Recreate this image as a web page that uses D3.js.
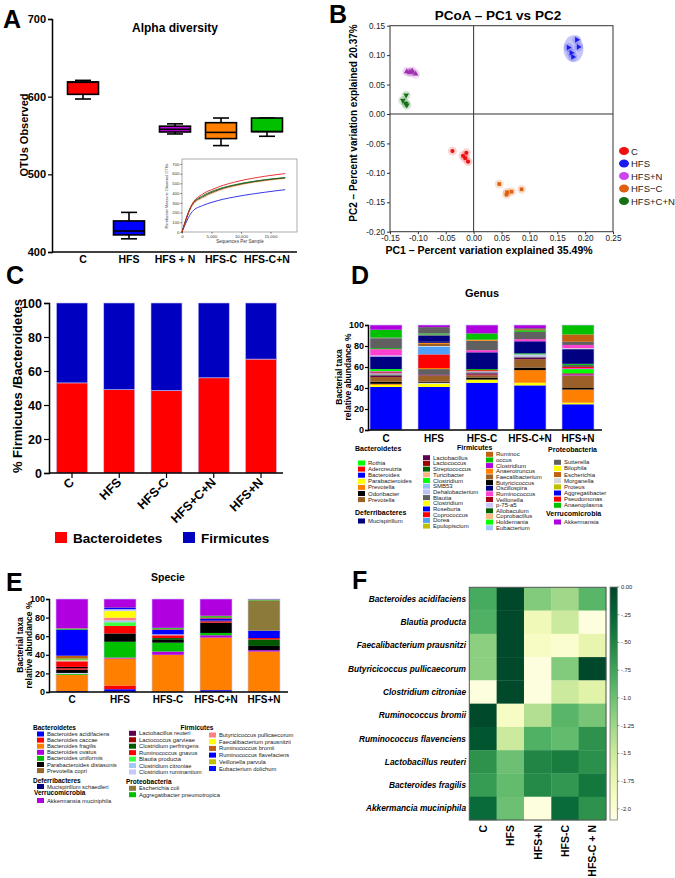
<!DOCTYPE html>
<html>
<head>
<meta charset="utf-8">
<script src="https://cdn.jsdelivr.net/npm/d3@7"></script>
<style>
  body { margin: 0; background: #fff; }
  svg text { font-family: Arial, 'Liberation Sans', sans-serif; }
</style>
</head>
<body>
<div class="main"></div>
<script>
// ---------- data ----------
// A: alpha diversity boxes
const boxGroups = ['C', 'HFS', 'HFS + N', 'HFS-C', 'HFS-C+N'];
const boxMin = [597, 417, 552, 537, 549];
const boxQ1 = [603, 422, 554.5, 546, 555];
const boxMedian = [618.5, 427, 558, 554, 555];
const boxQ3 = [619, 440, 562, 566.5, 572.5];
const boxMax = [621, 451, 565, 572.5, 572.5];

// A inset: rarefaction curves
const rareDepth = [0, 1750, 3500, 5250, 7000, 8750, 10500, 12250, 14000, 15750, 17500];
const rareC = [0, 290, 390, 440, 480, 510, 535, 555, 572, 587, 600];
const rareHFS = [0, 210, 272, 308, 337, 358, 377, 393, 408, 422, 435];
const rareHFSN = [0, 282, 362, 412, 450, 478, 500, 518, 533, 546, 556];
const rareHFSC = [0, 272, 352, 402, 442, 470, 493, 512, 527, 540, 551];
const rareHFSCN = [0, 287, 372, 422, 457, 483, 505, 522, 537, 549, 559];

// B: PCoA
const pcoaGroups = ['C', 'HFS', 'HFS+N', 'HFS\u2212C', 'HFS+C+N'];
const pcoaC = [[-0.038, -0.063], [-0.019, -0.071], [-0.013, -0.066], [-0.015, -0.075], [-0.010, -0.081]];
const pcoaHFS = [[0.185, 0.126], [0.170, 0.113], [0.188, 0.114], [0.175, 0.104], [0.178, 0.097]];
const pcoaHFSN = [[-0.120, 0.072], [-0.115, 0.071], [-0.110, 0.073], [-0.104, 0.068], [-0.112, 0.071]];
const pcoaHFSC = [[0.046, -0.119], [0.059, -0.137], [0.068, -0.132], [0.086, -0.128], [0.060, -0.133]];
const pcoaHFSCN = [[-0.127, 0.023], [-0.121, 0.032], [-0.120, 0.015], [-0.122, 0.018]];
const pcoaXTicks = [-0.15, -0.10, -0.05, 0.00, 0.05, 0.10, 0.15, 0.20, 0.25];
const pcoaYTicks = [-0.20, -0.15, -0.10, -0.05, 0.00, 0.05, 0.10, 0.15];

// C: Firmicutes / Bacteroidetes
const fbGroups = ['C', 'HFS', 'HFS-C', 'HFS+C+N', 'HFS+N'];
const bacteroidetesPct = [53, 49, 48.5, 56, 67];
const firmicutesPct = [47, 51, 51.5, 44, 33];

// D: genus stacks (bottom to top)
const genusGroups = ['C', 'HFS', 'HFS-C', 'HFS-C+N', 'HFS+N'];
const genusBacteroidetes = ['Rothia', 'Adercreutzia', 'Bacteroides', 'Parabacteroides', 'Prevotella', 'Odoribacter', 'Prevotella#2'];
const genusDeferribacteres = ['Mucispirillum'];
const genusFirmicutesA = ['Lactobacillus', 'Lactococcus', 'Streptococcus', 'Turicibacter', 'Clostridium', 'SMB53', 'Dehalobacterium', 'Blautia', 'Clostridium#2', 'Roseburia', 'Coprococcus', 'Dorea', 'Epulopiscium'];
const genusFirmicutesB = ['Ruminoc', 'occus', 'Clostridium#3', 'Anaerotruncus', 'Faecalibacterium', 'Butyricicoccus', 'Oscillospira', 'Ruminococcus', 'Veillonella', 'p-75-a5', 'Allobaculum', 'Coprobacillus', 'Holdemania', 'Eubacterium'];
const genusProteobacteria = ['Sutterella', 'Bilophila', 'Escherichia', 'Morganella', 'Proteus', 'Aggregatibacter', 'Pseudomonas', 'Anaeroplasma'];
const genusVerrucomicrobia = ['Akkermansia'];

const genusC = [['Bacteroides', 41], ['Parabacteroides', 2], ['Prevotella', 1], ['Odoribacter', 2], ['Prevotella#2', 4.5], ['Lactobacillus', 1], ['Blautia', 1.5], ['Dehalobacterium', 1], ['Lactococcus', 1], ['Ruminococcus', 1], ['Clostridium', 2], ['Oscillospira', 12], ['Dehalobacterium', 1], ['Ruminococcus', 6], ['occus', 1], ['Sutterella', 9], ['Blautia', 1], ['Anaeroplasma', 7.5], ['Akkermansia', 4.5]];
const genusHFS = [['Bacteroides', 41], ['Parabacteroides', 3], ['Morganella', 1], ['Odoribacter', 1], ['Prevotella#2', 6], ['Lactobacillus', 1], ['Blautia', 5], ['Prevotella', 1], ['Coprococcus', 13], ['Dorea', 7.5], ['Morganella', 0.5], ['Faecalibacterium', 2], ['Anaerotruncus', 1], ['Oscillospira', 1], ['Mucispirillum', 6], ['Blautia', 1], ['occus', 1], ['Sutterella', 6], ['Akkermansia', 2]];
const genusHFSC = [['Bacteroides', 45], ['Parabacteroides', 3], ['Odoribacter', 2], ['Prevotella#2', 2], ['Veillonella', 1], ['Lactobacillus', 1], ['Blautia', 1], ['Dehalobacterium', 1], ['Coprococcus', 1], ['occus', 1], ['Oscillospira', 16], ['Ruminococcus', 2], ['Sutterella', 9], ['Anaerotruncus', 1], ['Anaeroplasma', 6], ['Akkermansia', 8]];
const genusHFSCN = [['Bacteroides', 42.5], ['Parabacteroides', 2.5], ['Anaerotruncus', 12], ['Odoribacter', 2.5], ['Prevotella#2', 8], ['Lactobacillus', 1.5], ['Blautia', 1], ['p-75-a5', 2], ['occus', 1], ['Oscillospira', 11.5], ['Ruminococcus', 2], ['Sutterella', 7], ['Anaeroplasma', 1.5], ['Ruminoc', 1], ['Blautia', 1], ['Akkermansia', 3]];
const genusHFSN = [['Bacteroides', 24.5], ['Parabacteroides', 1.5], ['Anaerotruncus', 12.5], ['Odoribacter', 1.5], ['Prevotella#2', 12], ['Clostridium#3', 1], ['Veillonella', 1], ['Holdemania', 4], ['Ruminococcus', 1], ['Pseudomonas', 1], ['Blautia', 2], ['occus', 1], ['Oscillospira', 14], ['Morganella', 1], ['Ruminococcus', 3], ['Sutterella', 3], ['Escherichia', 7], ['Anaeroplasma', 9]];
const genusStacks = [genusC, genusHFS, genusHFSC, genusHFSCN, genusHFSN];

// E: species stacks
const spGroups = ['C', 'HFS', 'HFS-C', 'HFS-C+N', 'HFS+N'];
const spBacteroidetes = ['Bacteroides acidifaciens', 'Bacteroides caccae', 'Bacteroides fragilis', 'Bacteroides ovatus', 'Bacteroides uniformis', 'Parabacteroides distasonis', 'Prevotella copri'];
const spDeferribacteres = ['Mucispirillum schaedleri'];
const spVerrucomicrobia = ['Akkermansia muciniphila'];
const spFirmicutesA = ['Lactobacillus reuteri', 'Lactococcus garvieae', 'Clostridium perfringens', 'Ruminococcus gnavus', 'Blautia producta', 'Clostridium citroniae', 'Clostridium ruminantium'];
const spProteobacteria = ['Escherichia coli', 'Aggregatibacter pneumotropica'];
const spFirmicutesB = ['Butyricicoccus pullicaecorum', 'Faecalibacterium prausnitzii', 'Ruminococcus bromii', 'Ruminococcus flavefaciens', 'Veillonella parvula', 'Eubacterium dolichum'];

const spC = [['Ruminococcus flavefaciens', 1], ['Bacteroides fragilis', 17.5], ['Bacteroides uniformis', 1], ['Clostridium ruminantium', 1], ['Parabacteroides distasonis', 3.5], ['Ruminococcus gnavus', 1.5], ['Parabacteroides distasonis', 1.5], ['Bacteroides caccae', 6], ['Clostridium ruminantium', 1], ['Veillonella parvula', 1], ['Bacteroides uniformis', 1], ['Ruminococcus bromii', 3], ['Bacteroides acidifaciens', 28], ['Bacteroides uniformis', 1], ['Prevotella copri', 0.5], ['Akkermansia muciniphila', 31.5]];
const spHFS = [['Bacteroides acidifaciens', 3], ['Bacteroides caccae', 4], ['Bacteroides fragilis', 29], ['Bacteroides ovatus', 1], ['Bacteroides uniformis', 17], ['Parabacteroides distasonis', 9], ['Ruminococcus gnavus', 8], ['Blautia producta', 4], ['Clostridium citroniae', 2], ['Butyricicoccus pullicaecorum', 3], ['Faecalibacterium prausnitzii', 7], ['Clostridium ruminantium', 2], ['Ruminococcus flavefaciens', 1.5], ['Mucispirillum schaedleri', 0.5], ['Akkermansia muciniphila', 9]];
const spHFSC = [['Bacteroides fragilis', 40], ['Bacteroides ovatus', 3.5], ['Bacteroides uniformis', 9.5], ['Parabacteroides distasonis', 3], ['Clostridium perfringens', 2], ['Bacteroides caccae', 3], ['Clostridium ruminantium', 1], ['Bacteroides acidifaciens', 5], ['Prevotella copri', 1], ['Bacteroides uniformis', 1], ['Akkermansia muciniphila', 31]];
const spHFSCN = [['Bacteroides acidifaciens', 2], ['Bacteroides fragilis', 56.5], ['Bacteroides ovatus', 2.5], ['Bacteroides uniformis', 2.5], ['Parabacteroides distasonis', 11], ['Bacteroides caccae', 1.5], ['Mucispirillum schaedleri', 1], ['Bacteroides acidifaciens', 2], ['Ruminococcus gnavus', 1], ['Bacteroides uniformis', 1.5], ['Prevotella copri', 0.5], ['Akkermansia muciniphila', 18]];
const spHFSN = [['Bacteroides fragilis', 43.5], ['Bacteroides ovatus', 1.5], ['Parabacteroides distasonis', 4.5], ['Clostridium perfringens', 7], ['Bacteroides caccae', 1.5], ['Ruminococcus flavefaciens', 8], ['Escherichia coli', 32.5], ['Aggregatibacter pneumotropica', 1], ['Akkermansia muciniphila', 0.5]];
const spStacks = [spC, spHFS, spHFSC, spHFSCN, spHFSN];

// F: heatmap
const heatCols = ['C', 'HFS', 'HFS+N', 'HFS-C', 'HFS-C + N'];
const heatRows = ['Bacteroides acidifaciens', 'Blautia producta', 'Faecalibacterium prausnitzi', 'Butyricicoccus pullicaecorum', 'Clostridium citroniae', 'Ruminococcus bromii', 'Ruminococcus  flavenciens', 'Lactobacillus reuteri', 'Bacteroides  fragilis', 'Akkermancia muciniphila'];
const heatValues = [
  [-0.80, -0.02, -1.10, -1.25, -0.90],
  [-0.85, -0.03, -1.80, -1.50, -2.05],
  [-1.15, -0.03, -1.90, -1.95, -1.70],
  [-1.15, -0.03, -2.05, -1.10, -0.02],
  [-2.05, -0.03, -2.05, -1.50, -1.65],
  [-0.03, -1.90, -1.35, -0.90, -1.05],
  [-0.12, -1.50, -0.85, -0.95, -0.62],
  [-0.62, -1.00, -0.52, -0.45, -0.60],
  [-0.68, -0.95, -0.55, -0.65, -0.40],
  [-0.30, -1.00, -2.05, -0.30, -0.62]
];
const heatTicks = [0, -0.25, -0.5, -0.75, -1.0, -1.25, -1.5, -1.75, -2.0];
const heatTickLabels = ['0.00', '-.25', '-.50', '-.75', '-1.0', '-1.25', '-1.5', '-1.75', '-2.0'];

// ---------- styles ----------
const boxColors = ['#ff0000', '#0000ff', '#c000e0', '#ff8000', '#00c000'];
const rareColors = ['#e82020', '#2020e0', '#303030', '#f09040', '#107010'];
const pcoaColors = ['#ee1111', '#1a1aee', '#a030b0', '#e06010', '#157015'];
const legendBColors = ['#ee1111', '#1a1aee', '#cc44ee', '#e06010', '#157015'];

const genusColor = {
  'Rothia': '#00ff00', 'Adercreutzia': '#ff0000', 'Bacteroides': '#0000ff', 'Parabacteroides': '#ffff00',
  'Prevotella': '#ff8000', 'Odoribacter': '#000000', 'Prevotella#2': '#9a6028', 'Mucispirillum': '#000080',
  'Lactobacillus': '#600050', 'Lactococcus': '#a00000', 'Streptococcus': '#006000', 'Turicibacter': '#f8b880',
  'Clostridium': '#00ff00', 'SMB53': '#90c0f8', 'Dehalobacterium': '#c0c0f8', 'Blautia': '#606060',
  'Clostridium#2': '#ffff00', 'Roseburia': '#0000ff', 'Coprococcus': '#ff0000', 'Dorea': '#50a0f8',
  'Epulopiscium': '#c0c000', 'Ruminoc': '#c06010', 'occus': '#00c000', 'Clostridium#3': '#b000e0',
  'Anaerotruncus': '#ff8000', 'Faecalibacterium': '#9a6028', 'Butyricicoccus': '#000000', 'Oscillospira': '#000080',
  'Ruminococcus': '#ff40d0', 'Veillonella': '#a00010', 'p-75-a5': '#c8c8ff', 'Allobaculum': '#006000',
  'Coprobacillus': '#f8b880', 'Holdemania': '#00ff00', 'Eubacterium': '#a0c8f8', 'Sutterella': '#606060',
  'Bilophila': '#ffff00', 'Escherichia': '#c06010', 'Morganella': '#d8d8d8', 'Proteus': '#c0c000',
  'Aggregatibacter': '#0000ff', 'Pseudomonas': '#ff0000', 'Anaeroplasma': '#00c000', 'Akkermansia': '#b000e0'
};
const spColor = {
  'Bacteroides acidifaciens': '#0000ff', 'Bacteroides caccae': '#ff0000', 'Bacteroides fragilis': '#ff8000',
  'Bacteroides ovatus': '#b000e0', 'Bacteroides uniformis': '#00c000', 'Parabacteroides distasonis': '#000000',
  'Prevotella copri': '#9a6828', 'Mucispirillum schaedleri': '#000080', 'Akkermansia muciniphila': '#b000e0',
  'Lactobacillus reuteri': '#600050', 'Lactococcus garvieae': '#a00000', 'Clostridium perfringens': '#005800',
  'Ruminococcus gnavus': '#ff0000', 'Blautia producta': '#40ff40', 'Clostridium citroniae': '#a0c8f8',
  'Clostridium ruminantium': '#c8c8f8', 'Escherichia coli': '#8b7a3a', 'Aggregatibacter pneumotropica': '#00c000',
  'Butyricicoccus pullicaecorum': '#ff8080', 'Faecalibacterium prausnitzii': '#ffff00', 'Ruminococcus bromii': '#c06010',
  'Ruminococcus flavefaciens': '#0000ff', 'Veillonella parvula': '#c0c000', 'Eubacterium dolichum': '#0010ff'
};

const w = 675;
const h = 878;
const svg = d3.select('.main').append('svg').attr('width', w).attr('height', h);

function label(g, txt, x, y, size, opts = {}) {
  const t = g.append('text').attr('x', x).attr('y', y).attr('font-size', size)
    .attr('font-weight', opts.weight || 'bold').attr('text-anchor', opts.anchor || 'start')
    .attr('fill', opts.fill || '#000').text(txt);
  if (opts.rotate !== undefined) t.attr('transform', `rotate(${opts.rotate},${x},${y})`);
  if (opts.italic) t.attr('font-style', 'italic');
  return t;
}

function styleAxis(ax, size, weight) {
  ax.selectAll('.domain').attr('stroke', '#000').attr('stroke-width', 1.5);
  ax.selectAll('.tick line').attr('stroke', '#000').attr('stroke-width', 1.2);
  ax.selectAll('.tick text').attr('font-size', size).attr('font-weight', weight)
    .attr('font-family', "Arial, 'Liberation Sans', sans-serif").attr('fill', '#000');
}

// panel letters
[['A', 3, 28], ['B', 329, 23], ['C', 6, 284], ['D', 351, 284], ['E', 6, 591], ['F', 352, 589]]
  .forEach(([t, x, y]) => label(svg, t, x, y, 25));

// ---------- A ----------
const gA = svg.append('g');
const yA = d3.scaleLinear().domain([400, 700]).range([252, 19]);
const xA = d3.scalePoint().domain(boxGroups).range([83, 267]);
const axA = gA.append('g').attr('transform', 'translate(52,0)')
  .call(d3.axisLeft(yA).tickValues([400, 500, 600, 700]).tickSize(4).tickPadding(2));
styleAxis(axA, 11, 'bold');
gA.append('line').attr('x1', 52).attr('x2', 297).attr('y1', 252).attr('y2', 252)
  .attr('stroke', '#000').attr('stroke-width', 1.5);
label(gA, 'Alpha diversity', 175, 32, 12, { anchor: 'middle' });
label(gA, 'OTUs Observed', 28, 135, 11, { anchor: 'middle', rotate: -90 });
boxGroups.forEach((grp, i) => {
  label(gA, grp, xA(grp), 263, 10.5, { anchor: 'middle' });
  const cx = xA(grp);
  const bw = 31;
  const cap = 16;
  const gb = gA.append('g').attr('stroke', '#000').attr('stroke-width', 1.6);
  gb.append('line').attr('x1', cx).attr('x2', cx).attr('y1', yA(boxMax[i])).attr('y2', yA(boxMin[i]));
  gb.append('line').attr('x1', cx - cap / 2).attr('x2', cx + cap / 2).attr('y1', yA(boxMax[i])).attr('y2', yA(boxMax[i]));
  gb.append('line').attr('x1', cx - cap / 2).attr('x2', cx + cap / 2).attr('y1', yA(boxMin[i])).attr('y2', yA(boxMin[i]));
  gb.append('rect').attr('x', cx - bw / 2).attr('width', bw).attr('y', yA(boxQ3[i]))
    .attr('height', yA(boxQ1[i]) - yA(boxQ3[i])).attr('fill', boxColors[i]);
  gb.append('line').attr('x1', cx - bw / 2).attr('x2', cx + bw / 2).attr('y1', yA(boxMedian[i])).attr('y2', yA(boxMedian[i]));
});

// inset rarefaction
const xI = d3.scaleLinear().domain([0, 19500]).range([182, 297]);
const yI = d3.scaleLinear().domain([0, 750]).range([232, 159]);
gA.append('rect').attr('x', 182).attr('y', 159).attr('width', 115).attr('height', 73)
  .attr('fill', '#fff').attr('stroke', '#999').attr('stroke-width', 0.8);
const axIx = gA.append('g').attr('transform', 'translate(0,232)')
  .call(d3.axisBottom(xI).tickValues([0, 5000, 10000, 15000]).tickSize(1.5).tickPadding(1));
const axIy = gA.append('g').attr('transform', 'translate(182,0)')
  .call(d3.axisLeft(yI).tickValues([0, 100, 200, 300, 400, 500, 600, 700]).tickSize(1.5).tickPadding(1));
[axIx, axIy].forEach(a => {
  a.selectAll('.domain').remove();
  a.selectAll('.tick line').attr('stroke', '#666');
  a.selectAll('.tick text').attr('font-size', 4.3).attr('fill', '#333')
    .attr('font-family', "'DejaVu Sans', sans-serif");
});
label(gA, 'Sequences Per Sample', 240, 243, 4.5, { anchor: 'middle', weight: 'normal', fill: '#333' });
label(gA, 'Rarefaction Measure: Observed OTUs', 168, 196, 3.8, { anchor: 'middle', weight: 'normal', fill: '#333', rotate: -90 });
const rareLine = d3.line().x((d, i) => xI(rareDepth[i])).y(d => yI(d)).curve(d3.curveMonotoneX);
[rareHFS, rareHFSC, rareHFSN, rareHFSCN, rareC].forEach((s, i) => {
  const col = [rareColors[1], rareColors[3], rareColors[2], rareColors[4], rareColors[0]][i];
  gA.append('path').attr('d', rareLine(s)).attr('fill', 'none').attr('stroke', col).attr('stroke-width', 0.9);
});

// ---------- B ----------
const gB = svg.append('g');
const xB = d3.scaleLinear().domain([-0.15, 0.25]).range([390, 613]);
const yB = d3.scaleLinear().domain([-0.2, 0.15]).range([231.7, 25.7]);
label(gB, 'PCoA \u2013 PC1 vs PC2', 498, 20, 13.5, { anchor: 'middle' });
gB.append('rect').attr('x', 390).attr('y', 25.7).attr('width', 223).attr('height', 206)
  .attr('fill', 'none').attr('stroke', '#333').attr('stroke-width', 1);
gB.append('line').attr('x1', xB(0)).attr('x2', xB(0)).attr('y1', 25.7).attr('y2', 231.7).attr('stroke', '#333');
gB.append('line').attr('x1', 390).attr('x2', 613).attr('y1', yB(0)).attr('y2', yB(0)).attr('stroke', '#333');
const fmtB = d => d.toFixed(2);
const axBx = gB.append('g').attr('transform', 'translate(0,231.7)')
  .call(d3.axisBottom(xB).tickValues(pcoaXTicks).tickFormat(fmtB).tickSize(2.5).tickPadding(1));
const axBy = gB.append('g').attr('transform', 'translate(390,0)')
  .call(d3.axisLeft(yB).tickValues(pcoaYTicks).tickFormat(fmtB).tickSize(3).tickPadding(2));
[axBx, axBy].forEach(a => {
  a.selectAll('.domain').remove();
  a.selectAll('.tick line').attr('stroke', '#333');
  a.selectAll('.tick text').attr('font-size', 8.2).attr('fill', '#222');
});
label(gB, 'PC1 \u2013 Percent variation explained 35.49%', 489, 253.5, 10.5, { anchor: 'middle' });
label(gB, 'PC2 \u2013 Percent variation explained 20.37%', 357, 123, 10, { anchor: 'middle', rotate: -90 });
const pcoaSets = [pcoaC, pcoaHFS, pcoaHFSN, pcoaHFSC, pcoaHFSCN];
const pcoaSymbols = [d3.symbolCircle, d3.symbolTriangle, d3.symbolTriangle, d3.symbolSquare, d3.symbolTriangle];
const pcoaRot = [0, 90, 0, 0, 180];
pcoaSets.forEach((pts, i) => {
  const gx = pts.map(p => xB(p[0]));
  const gy = pts.map(p => yB(p[1]));
  if (i === 1) {
    gB.append('ellipse').attr('cx', d3.mean(gx)).attr('cy', d3.mean(gy))
      .attr('rx', (d3.max(gx) - d3.min(gx)) / 2 + 5).attr('ry', (d3.max(gy) - d3.min(gy)) / 2 + 5)
      .attr('fill', pcoaColors[i]).attr('opacity', 0.25);
  }
  pts.forEach(p => {
    gB.append('circle').attr('cx', xB(p[0])).attr('cy', yB(p[1])).attr('r', 4.5)
      .attr('fill', pcoaColors[i]).attr('opacity', 0.18);
  });
  gB.selectAll(null).data(pts).enter().append('path')
    .attr('d', d3.symbol().type(pcoaSymbols[i]).size(14))
    .attr('transform', d => `translate(${xB(d[0])},${yB(d[1])}) rotate(${pcoaRot[i]})`)
    .attr('fill', pcoaColors[i]);
});
pcoaGroups.forEach((grp, i) => {
  const yy = 151 + i * 12.5;
  gB.append('ellipse').attr('cx', 624).attr('cy', yy).attr('rx', 5).attr('ry', 4).attr('fill', legendBColors[i]);
  label(gB, grp, 631, yy + 3.5, 9.5, { weight: 'normal', fill: '#222' });
});

// ---------- C ----------
const gC = svg.append('g');
const yC = d3.scaleLinear().domain([0, 100]).range([473, 303]);
const xC = d3.scalePoint().domain(fbGroups).range([72, 261]);
fbGroups.forEach((grp, i) => {
  gC.append('rect').attr('x', xC(grp) - 15.5).attr('width', 31)
    .attr('y', yC(bacteroidetesPct[i])).attr('height', yC(0) - yC(bacteroidetesPct[i]))
    .attr('fill', '#ff0000').attr('stroke', '#c8c0f0').attr('stroke-width', 0.6);
  gC.append('rect').attr('x', xC(grp) - 15.5).attr('width', 31)
    .attr('y', yC(bacteroidetesPct[i] + firmicutesPct[i])).attr('height', yC(bacteroidetesPct[i]) - yC(bacteroidetesPct[i] + firmicutesPct[i]))
    .attr('fill', '#0000c0').attr('stroke', '#c8c0f0').attr('stroke-width', 0.6);
  gC.append('line').attr('x1', xC(grp)).attr('x2', xC(grp)).attr('y1', 473).attr('y2', 478)
    .attr('stroke', '#000').attr('stroke-width', 1.2);
  label(gC, grp, xC(grp) + 3, 483, 12.5, { anchor: 'end', rotate: -45 });
});
const axC = gC.append('g').attr('transform', 'translate(49,0)')
  .call(d3.axisLeft(yC).tickValues([0, 20, 40, 60, 80, 100]).tickSize(5).tickPadding(2));
styleAxis(axC, 12.5, 'bold');
gC.append('line').attr('x1', 49).attr('x2', 283).attr('y1', 473).attr('y2', 473)
  .attr('stroke', '#000').attr('stroke-width', 1.5);
label(gC, '% Firmicutes /Bacteroidetes', 22, 386, 13, { anchor: 'middle', rotate: -90 });
gC.append('rect').attr('x', 55).attr('y', 532).attr('width', 12).attr('height', 11).attr('fill', '#ff0000');
label(gC, 'Bacteroidetes', 73, 543, 13.5);
gC.append('rect').attr('x', 183).attr('y', 532).attr('width', 12).attr('height', 11).attr('fill', '#0000c0');
label(gC, 'Firmicutes', 201, 543, 13.5);

// ---------- stacked bar helper ----------
function drawStack(g, x, y, grp, segs, colors, bw) {
  const tops = d3.cumsum(segs, s => s[1]);
  const rows = segs.map((s, i) => ({ k: s[0], y0: tops[i] - s[1], y1: tops[i] }));
  g.selectAll(null).data(rows).enter().append('rect')
    .attr('x', x(grp) - bw / 2).attr('width', bw)
    .attr('y', d => y(d.y1)).attr('height', d => y(d.y0) - y(d.y1))
    .attr('fill', d => colors[d.k]);
  g.append('rect').attr('x', x(grp) - bw / 2).attr('width', bw)
    .attr('y', y(tops[tops.length - 1])).attr('height', y(0) - y(tops[tops.length - 1]))
    .attr('fill', 'none').attr('stroke', '#c8c8ff').attr('stroke-width', 0.6);
}

function legendCol(g, names, colors, x, y0, dy, size) {
  names.forEach((n, i) => {
    const yy = y0 + i * dy;
    g.append('rect').attr('x', x).attr('y', yy - 2.5).attr('width', 7).attr('height', 5).attr('fill', colors[n]);
    label(g, n.split('#')[0], x + 10, yy + 2, size, { weight: 'normal', fill: '#222' });
  });
}

// ---------- D ----------
const gD = svg.append('g');
const yD = d3.scaleLinear().domain([0, 100]).range([430, 325]);
const xD = d3.scalePoint().domain(genusGroups).range([386, 578]);
label(gD, 'Genus', 482, 297, 11, { anchor: 'middle' });
genusGroups.forEach((grp, i) => {
  drawStack(gD, xD, yD, grp, genusStacks[i], genusColor, 32);
  label(gD, grp, xD(grp), 442, 10, { anchor: 'middle' });
});
const axD = gD.append('g').attr('transform', 'translate(368,0)')
  .call(d3.axisLeft(yD).tickValues([0, 20, 40, 60, 80, 100]).tickSize(3).tickPadding(1));
styleAxis(axD, 9, 'bold');
gD.append('line').attr('x1', 368).attr('x2', 602).attr('y1', 430).attr('y2', 430)
  .attr('stroke', '#000').attr('stroke-width', 1.5);
label(gD, 'Bacterial taxa', 342, 377, 8.5, { anchor: 'middle', rotate: -90 });
label(gD, 'relative abundance %', 351, 377, 8.5, { anchor: 'middle', rotate: -90 });
label(gD, 'Bacteroidetes', 355, 451, 7);
legendCol(gD, genusBacteroidetes, genusColor, 358, 463, 6.1, 6);
label(gD, 'Deferribacteres', 355, 515, 7);
legendCol(gD, genusDeferribacteres, genusColor, 358, 521, 6, 6);
label(gD, 'Firmicutes', 457, 450, 7);
legendCol(gD, genusFirmicutesA, genusColor, 423, 457.7, 5.7, 6);
legendCol(gD, genusFirmicutesB, genusColor, 486, 454.3, 5.65, 6);
label(gD, 'Proteobacteria', 548, 451.5, 7);
legendCol(gD, genusProteobacteria, genusColor, 554, 462.3, 6.14, 6);
label(gD, 'Verrucomicrobia', 546, 515.5, 7);
legendCol(gD, genusVerrucomicrobia, genusColor, 554, 522, 6, 6);

// ---------- E ----------
const gE = svg.append('g');
const yE = d3.scaleLinear().domain([0, 100]).range([692, 599]);
const xE = d3.scalePoint().domain(spGroups).range([72, 264]);
label(gE, 'Specie', 168, 581, 10.5, { anchor: 'middle' });
spGroups.forEach((grp, i) => {
  drawStack(gE, xE, yE, grp, spStacks[i], spColor, 32);
  label(gE, grp, xE(grp), 703, 10, { anchor: 'middle' });
});
const axE = gE.append('g').attr('transform', 'translate(49,0)')
  .call(d3.axisLeft(yE).tickValues([0, 20, 40, 60, 80, 100]).tickSize(3).tickPadding(1));
styleAxis(axE, 9, 'bold');
gE.append('line').attr('x1', 49).attr('x2', 288).attr('y1', 692).attr('y2', 692)
  .attr('stroke', '#000').attr('stroke-width', 1.5);
label(gE, 'Bacterial taxa', 23, 645, 8.5, { anchor: 'middle', rotate: -90 });
label(gE, 'relative abundance %', 32, 645, 8.5, { anchor: 'middle', rotate: -90 });
label(gE, 'Bacteroidetes', 33, 729.5, 6.5);
legendCol(gE, spBacteroidetes, spColor, 37, 734, 6.1, 5.8);
label(gE, 'Deferribacteres', 33, 782.5, 6.5);
legendCol(gE, spDeferribacteres, spColor, 37, 786.5, 6, 5.8);
label(gE, 'Verrucomicrobia', 34, 795, 6.5);
legendCol(gE, spVerrucomicrobia, spColor, 37, 800.5, 6, 5.8);
label(gE, 'Firmicutes', 197, 729.5, 6.5, { anchor: 'middle' });
legendCol(gE, spFirmicutesA, spColor, 129, 733.3, 6.45, 5.8);
label(gE, 'Proteobacteria', 126, 784, 6.5);
legendCol(gE, spProteobacteria, spColor, 129, 788.3, 6.4, 5.8);
legendCol(gE, spFirmicutesB, spColor, 209, 735, 6.7, 5.8);

// ---------- F ----------
const gF = svg.append('g');
const xF = d3.scaleBand().domain(heatCols).range([469.3, 606]);
const yF = d3.scaleBand().domain(heatRows).range([587.3, 820]);
const heatColor = d3.scaleSequential(d3.interpolateYlGn).domain([-2.1, 0]);
heatRows.forEach((r, i) => {
  heatCols.forEach((c, j) => {
    gF.append('rect').attr('x', xF(c)).attr('y', yF(r)).attr('width', xF.bandwidth() + 0.3)
      .attr('height', yF.bandwidth() + 0.3).attr('fill', heatColor(heatValues[i][j]));
  });
  label(gF, r, 466, yF(r) + yF.bandwidth() / 2 + 3, 8.3, { anchor: 'end', italic: true });
});
gF.append('rect').attr('x', 469.3).attr('y', 587.3).attr('width', 136.7).attr('height', 232.7)
  .attr('fill', 'none').attr('stroke', '#555').attr('stroke-width', 1);
heatCols.forEach(c => {
  label(gF, c, xF(c) + xF.bandwidth() / 2 + 4, 825, 10.5, { anchor: 'end', rotate: -90 });
});
const yCB = d3.scaleLinear().domain([0, -2.1]).range([587, 820]);
const grad = svg.append('defs').append('linearGradient').attr('id', 'cb')
  .attr('x1', 0).attr('x2', 0).attr('y1', 0).attr('y2', 1);
d3.range(0, 1.0001, 0.1).forEach(t => {
  grad.append('stop').attr('offset', t).attr('stop-color', heatColor(-2.1 * t));
});
gF.append('rect').attr('x', 610).attr('y', 587).attr('width', 7.3).attr('height', 233)
  .attr('fill', 'url(#cb)').attr('stroke', '#777').attr('stroke-width', 0.8);
heatTicks.forEach((v, i) => {
  gF.append('line').attr('x1', 617.3).attr('x2', 619.5).attr('y1', yCB(v)).attr('y2', yCB(v))
    .attr('stroke', '#555').attr('stroke-width', 0.6);
  label(gF, heatTickLabels[i], 621, yCB(v) + 2, 5.8, { weight: 'normal', fill: '#222' });
});
</script>
</body>
</html>
